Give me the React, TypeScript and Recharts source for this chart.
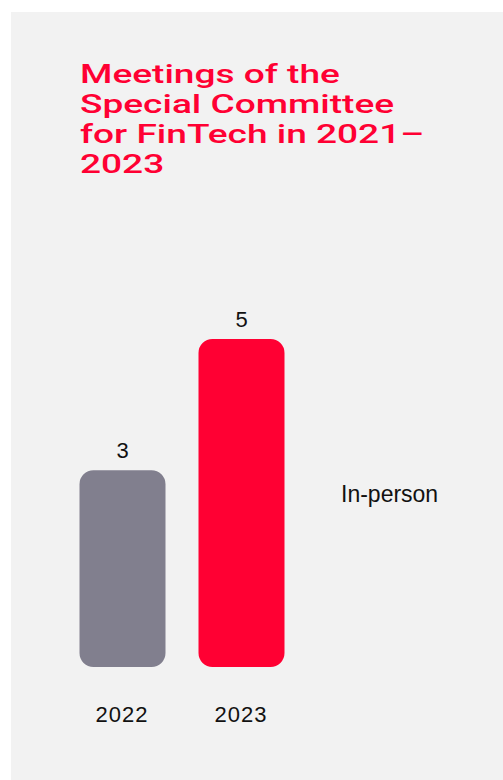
import React from 'react';
import { BarChart, Bar, XAxis, YAxis, LabelList, Cell } from 'recharts';

const years = ['2022', '2023'];
const inPerson = [3, 5];
const barColors = ['#817F8E', '#FF0033'];
const seriesName = 'In-person';
const titleLines = ['Meetings of the', 'Special Committee', 'for FinTech in 2021–', '2023'];

const data = years.map((year, i) => ({ year, value: inPerson[i] }));

const FONT = '"Liberation Sans", Arial, sans-serif';

const YearTick = ({ x, y, payload }: any) => (
  <text x={x} y={y + 55} textAnchor="middle" fontSize={22} fill="#111" fontFamily={FONT} letterSpacing={1}>
    {payload.value}
  </text>
);

export default function App() {
  return (
    <div style={{ position: 'fixed', left: 0, top: 0, width: 503, height: 780, overflow: 'hidden', background: '#fff' }}>
      <div style={{ position: 'absolute', left: 11, top: 12, right: 0, bottom: 0, background: '#F2F2F2' }} />
      <div
        style={{
          position: 'absolute',
          left: 80,
          top: 59,
          fontFamily: 'Roboto, sans-serif',
          fontWeight: 500,
          fontSize: 26,
          lineHeight: '30px',
          color: '#FF0033',
          whiteSpace: 'nowrap',
          transform: 'scaleX(1.425)',
          transformOrigin: 'left top',
        }}
      >
        {titleLines.map((line) => (
          <div key={line}>{line}</div>
        ))}
      </div>
      <div
        style={{
          position: 'absolute',
          left: 341,
          top: 481,
          fontFamily: FONT,
          fontSize: 23,
          color: '#111',
        }}
      >
        {seriesName}
      </div>
      <div style={{ position: 'absolute', left: 0, top: 0 }}>
        <BarChart
          width={503}
          height={780}
          data={data}
          margin={{ top: 339, right: 202.5, left: 62.5, bottom: 53 }}
        >
          <XAxis
            dataKey="year"
            height={60}
            axisLine={false}
            tickLine={false}
            tickSize={0}
            tickMargin={0}
            interval={0}
            tick={<YearTick />}
          />
          <YAxis hide domain={[0, 5]} />
          <Bar dataKey="value" name={seriesName} barSize={86} radius={14} isAnimationActive={false}>
            {data.map((d, i) => (
              <Cell key={d.year} fill={barColors[i]} />
            ))}
            <LabelList dataKey="value" position="top" offset={12} fontSize={22} fill="#111" fontFamily={FONT} />
          </Bar>
        </BarChart>
      </div>
    </div>
  );
}
